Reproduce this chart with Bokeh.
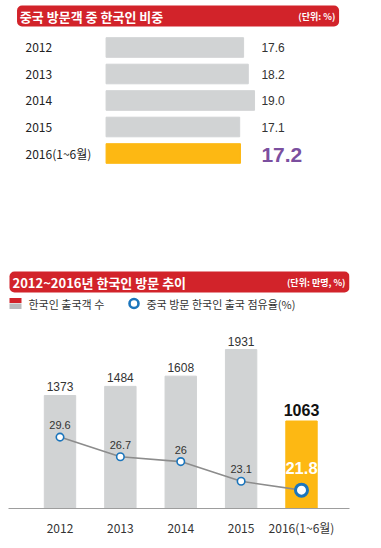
from bokeh.plotting import figure
from bokeh.models import Range1d, ColumnDataSource, FixedTicker
from bokeh.layouts import column
from bokeh.embed import file_html
from bokeh.resources import INLINE
from bokeh.core.properties import value

# ---------------- data ----------------
share_years = ["2012", "2013", "2014", "2015", "2016(1~6월)"]
share_values = [17.6, 18.2, 19.0, 17.1, 17.2]          # %

trend_years = ["2012", "2013", "2014", "2015", "2016(1~6월)"]
visitors = [1373, 1484, 1608, 1931, 1063]               # 만명
occupancy = [29.6, 26.7, 26, 23.1, 21.8]                # %
occupancy_labels = ["29.6", "26.7", "26", "23.1", "21.8"]

title_top = "중국 방문객 중 한국인 비중"
unit_top = "(단위: %)"
title_bottom = "2012~2016년 한국인 방문 추이"
unit_bottom = "(단위: 만명, %)"
legend_bar = "한국인 출국객 수"
legend_line = "중국 방문 한국인 출국 점유율(%)"

# ---------------- style ----------------
KR = value("Noto Sans CJK KR")
SANS = value("Liberation Sans")
RED = "#d2232a"
GRAY = "#d1d3d4"
ORANGE = "#fdb813"
PURPLE = "#7b4f9f"
BLUE = "#1b75bc"
TXT = "#333333"

M = 0          # page offset of the figures
W = 360

# ================= top chart =================
H1 = 250
n1 = len(share_years)
idx1 = list(range(n1))
BAR0 = 103 - M        # x of value 0 inside figure
PXU = 8.25            # px per %
ROW0 = 47 - M         # centre of first row inside figure
ROWH = 26.5
p1 = figure(width=W, height=H1, output_backend="svg", toolbar_location=None,
            x_range=Range1d(-BAR0 / PXU, (W - BAR0) / PXU),
            y_range=Range1d((H1 - ROW0) / ROWH, -ROW0 / ROWH),
            x_axis_location=None, y_axis_location=None,
            min_border=0, outline_line_color=None)
p1.grid.visible = False
p1.extra_x_ranges = {"px": Range1d(M, M + W)}
p1.extra_y_ranges = {"px": Range1d(M + H1, M)}

p1.quad(left=[9], right=[349], top=[5], bottom=[26], x_range_name="px", y_range_name="px",
        fill_color=RED, line_color=None, border_radius=5)
p1.text(x=[12], y=[16], text=[title_top], x_range_name="px", y_range_name="px",
        text_font=KR, text_font_style="bold", text_font_size="13px",
        text_color="white", text_baseline="middle")
p1.text(x=[345], y=[16], text=[unit_top], x_range_name="px", y_range_name="px",
        text_font=KR, text_font_style="bold", text_font_size="9px",
        text_color="white", text_baseline="middle", text_align="right")

src1 = ColumnDataSource(dict(
    y=idx1, v=share_values, year=share_years,
    color=[GRAY] * (n1 - 1) + [ORANGE],
    lx=[18] * n1,
))
p1.hbar(y="y", left=0, right="v", height=0.74, color="color", source=src1)
p1.text(x="lx", y="y", text="year", source=src1, x_range_name="px",
        text_font=KR, text_font_size="12px", text_color="#222222",
        text_baseline="middle")
labs1 = [f"{v:.1f}" for v in share_values]
rest1 = ColumnDataSource(dict(y=idx1[:-1], lab=labs1[:-1], vx=[267] * (n1 - 1)))
last1 = ColumnDataSource(dict(y=idx1[-1:], lab=labs1[-1:], vx=[267]))
p1.text(x="vx", y="y", text="lab", source=rest1, x_range_name="px",
        text_font=SANS, text_font_size="12px", text_color=TXT,
        text_baseline="middle")
p1.text(x="vx", y="y", text="lab", source=last1, x_range_name="px",
        text_font=SANS, text_font_style="bold", text_font_size="21px",
        text_color=PURPLE, text_baseline="middle", y_offset=1)

# ================= bottom chart =================
TOP2 = M + H1               # page y of figure top
FRAME_BOTTOM = 508          # page y of axis line
H2 = 290
FH = FRAME_BOTTOM - TOP2    # frame height
FW = 341
X0 = 8                      # page x of frame left
n2 = len(trend_years)
idx2 = list(range(n2))
p2 = figure(width=W, height=H2, output_backend="svg", toolbar_location=None,
            x_range=Range1d(-0.853, 4.795),
            y_range=Range1d(0, FH * 12.15),
            y_axis_location=None,
            min_border_left=X0 - M, min_border_right=W - FW - (X0 - M), min_border_top=0,
            min_border_bottom=H2 - FH, outline_line_color=None)
p2.grid.visible = False
p2.extra_x_ranges = {"px": Range1d(X0, X0 + FW)}
p2.extra_y_ranges = {"px": Range1d(FRAME_BOTTOM, TOP2),
                     "pct": Range1d(19.1, 19.1 + FH / 6.8)}

ax = p2.xaxis[0]
ax.ticker = FixedTicker(ticks=idx2)
ax.major_label_overrides = {i: t for i, t in zip(idx2, trend_years)}
ax.axis_line_color = "#9d9d9d"
ax.axis_line_width = 1
ax.major_tick_line_color = None
ax.minor_tick_line_color = None
ax.major_label_standoff = 4
ax.major_label_text_font = "Noto Sans CJK KR"
ax.major_label_text_font_size = "12px"
ax.major_label_text_color = TXT

# header
p2.quad(left=[9], right=[349], top=[271], bottom=[292], x_range_name="px", y_range_name="px",
        fill_color=RED, line_color=None, border_radius=5)
p2.text(x=[12], y=[282], text=[title_bottom], x_range_name="px", y_range_name="px",
        text_font=KR, text_font_style="bold", text_font_size="13px",
        text_color="white", text_baseline="middle")
p2.text(x=[345], y=[282], text=[unit_bottom], x_range_name="px", y_range_name="px",
        text_font=KR, text_font_style="bold", text_font_size="9px",
        text_color="white", text_baseline="middle", text_align="right")

# legend
p2.quad(left=[9], right=[21], top=[297.5], bottom=[302.5], x_range_name="px", y_range_name="px",
        fill_color=RED, line_color=None)
p2.quad(left=[9], right=[21], top=[303], bottom=[308.5], x_range_name="px", y_range_name="px",
        fill_color="#b9babc", line_color=None)
p2.text(x=[28], y=[303], text=[legend_bar], x_range_name="px", y_range_name="px",
        text_font=KR, text_font_size="11px", text_color=TXT, text_baseline="middle")
p2.scatter(x=[133.5], y=[303], size=9, x_range_name="px", y_range_name="px",
           fill_color="white", line_color=BLUE, line_width=2.6)
p2.text(x=[146], y=[303], text=[legend_line], x_range_name="px", y_range_name="px",
        text_font=KR, text_font_size="11px", text_color=TXT, text_baseline="middle")

# bars
src2 = ColumnDataSource(dict(x=idx2, v=visitors, color=[GRAY] * (n2 - 1) + [ORANGE]))
p2.vbar(x="x", top="v", bottom=0, width=0.52, color="color", source=src2)
labs2 = [str(v) for v in visitors]
rest_b = ColumnDataSource(dict(x=idx2[:-1], v=visitors[:-1], lab=labs2[:-1]))
last_b = ColumnDataSource(dict(x=idx2[-1:], v=visitors[-1:], lab=labs2[-1:]))
p2.text(x="x", y="v", text="lab", source=rest_b, text_font=SANS,
        text_font_size="12px", text_color=TXT, text_align="center",
        text_baseline="bottom", y_offset=-4)
p2.text(x="x", y="v", text="lab", source=last_b, text_font=SANS,
        text_font_style="bold", text_font_size="16px", text_color="#111111",
        text_align="center", text_baseline="bottom", y_offset=-5)

# occupancy line
p2.line(x=idx2, y=occupancy, y_range_name="pct", line_color="#8c8c8c", line_width=1.6)
rest_o = ColumnDataSource(dict(x=idx2[:-1], v=occupancy[:-1], lab=occupancy_labels[:-1]))
last_o = ColumnDataSource(dict(x=idx2[-1:], v=occupancy[-1:], lab=occupancy_labels[-1:]))
p2.scatter(x="x", y="v", source=rest_o, y_range_name="pct", size=7.5,
           fill_color="white", line_color=BLUE, line_width=1.6)
p2.scatter(x="x", y="v", source=last_o, y_range_name="pct", size=12,
           fill_color="white", line_color=BLUE, line_width=3)
p2.text(x="x", y="v", text="lab", source=rest_o, y_range_name="pct",
        text_font=SANS, text_font_size="11px", text_color=TXT,
        text_align="center", text_baseline="bottom", y_offset=-8)
p2.text(x="x", y="v", text="lab", source=last_o, y_range_name="pct",
        text_font=SANS, text_font_style="bold", text_font_size="16.5px",
        text_color="white", text_align="center", text_baseline="bottom", y_offset=-16)

layout = column(p1, p2, spacing=0)
open("out.html", "w").write(file_html(layout, INLINE))
